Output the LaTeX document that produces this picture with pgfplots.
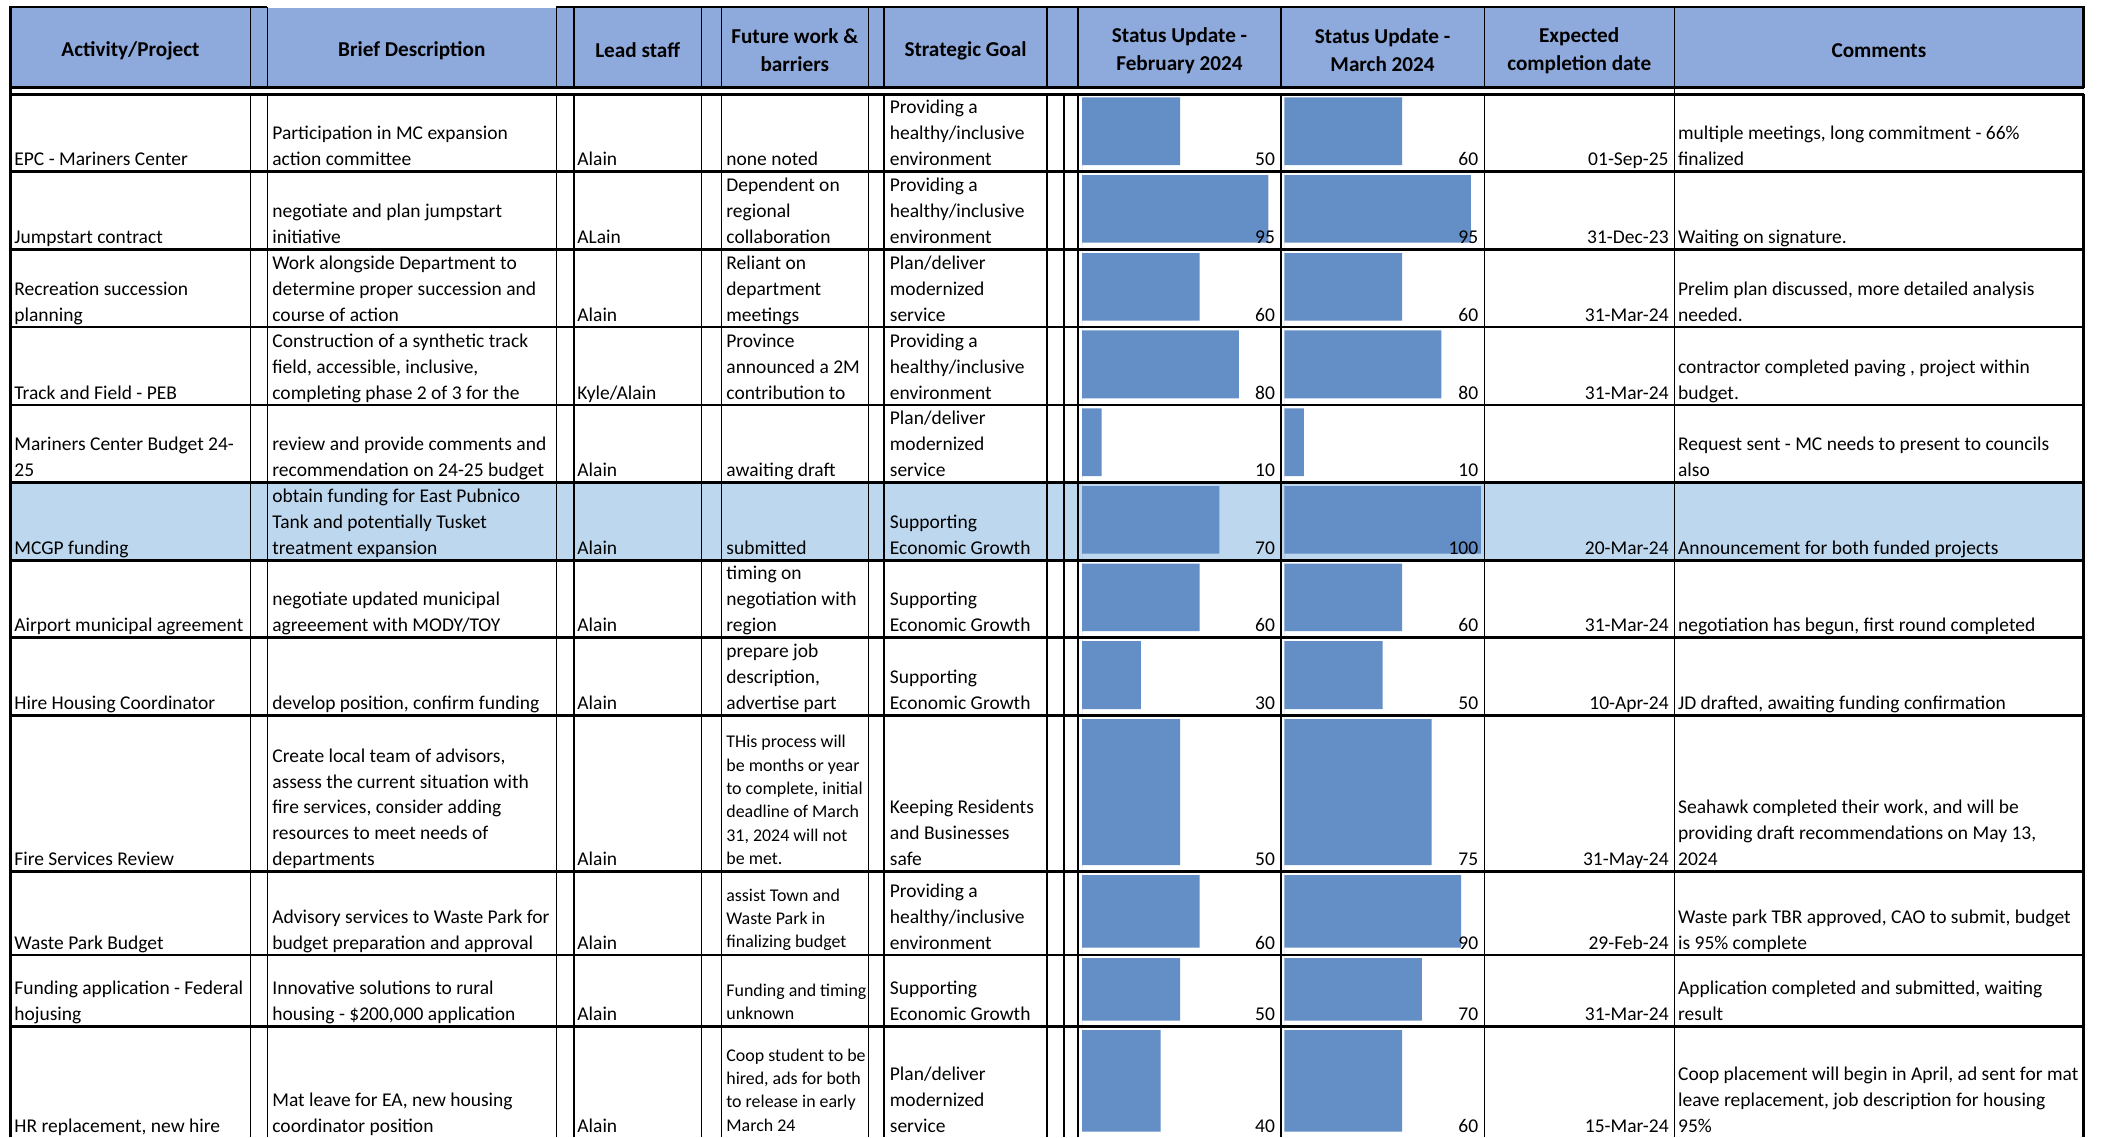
\documentclass[border=0pt]{standalone}
\usepackage{pgfplots}
\usepackage{pgfplotstable}
\pgfplotsset{compat=1.18}
\usepackage{fontspec}
\setmainfont{Carlito}
\definecolor{hdr}{HTML}{8EA9DB}
\definecolor{hil}{HTML}{BDD7EE}
\definecolor{barc}{HTML}{638EC6}
\newcommand\nf{\fontsize{9.75pt}{12.95pt}\selectfont}
\newcommand\sfn{\fontsize{8.95pt}{11.65pt}\selectfont}
\newcommand\hf{\fontsize{10.6pt}{14pt}\selectfont\bfseries}
\newcommand\XL[3]{\node[anchor=south west,inner sep=0pt,align=left,font=\nf,yshift=-1.1pt] at (axis cs:#1,#2) {#3\strut};}
\newcommand\XS[3]{\node[anchor=south west,inner sep=0pt,align=left,font=\sfn,yshift=0pt] at (axis cs:#1,#2) {#3\strut};}
\newcommand\XR[3]{\node[anchor=south east,inner sep=0pt,font=\nf,yshift=-1.1pt] at (axis cs:#1,#2) {#3\strut};}
\newcommand\XH[3]{\node[align=center,inner sep=0pt,font=\hf] at (axis cs:#1,#2) {#3};}
% bar tables: y = interval start (pixel row position), v = value (0 = gap between rows)
\pgfplotstableread{
y v
97.3 50
165 0
175 95
242.7 0
253 60
320.7 0
330.3 80
398.3 0
408.3 10
476 0
486 70
553.7 0
563.6 60
631 0
641 30
709 0
719 50
865 0
875 60
947.7 0
958 50
1020.7 0
1030 40
1131.7 0
}\feb
\pgfplotstableread{
y v
97.3 60
165 0
175 95
242.7 0
253 60
320.7 0
330.3 80
398.3 0
408.3 10
476 0
486 100
553.7 0
563.6 60
631 0
641 50
709 0
719 75
865 0
875 90
947.7 0
958 70
1020.7 0
1030 60
1131.7 0
}\mar
\begin{document}
\begin{tikzpicture}
\pgfplotsset{base/.style={width=1053.5pt,height=568.5pt,scale only axis,hide axis,ymin=0,ymax=1137,y dir=reverse,at={(0,0)},anchor=south west}}
\begin{axis}[base,xmin=0,xmax=2107]
\fill[hdr] (axis cs:10.5,7) rectangle (axis cs:267.3,87.7);
\fill[hdr] (axis cs:267.3,8.3) rectangle (axis cs:556.3,87.7);
\fill[hdr] (axis cs:556.3,7) rectangle (axis cs:2083.6,87.7);
\fill[hil] (axis cs:10.5,482.7) rectangle (axis cs:2083.6,560.3);
\end{axis}
\begin{axis}[base,xmin=-551.48,xmax=522.43]
\addplot[xbar interval, fill=barc, draw=none] table[x=v,y=y]{\feb};
\end{axis}
\begin{axis}[base,xmin=-653.54,xmax=418.73]
\addplot[xbar interval, fill=barc, draw=none] table[x=v,y=y]{\mar};
\end{axis}
\begin{axis}[base,xmin=0,xmax=2107]
\pgfplotsinvokeforeach{87.7,94.3,171.7,249.7,327,405,482.7,560.3,637.7,715.7,871.7,955,1026.7}{\draw[line width=1.3pt] (axis cs:10.5,#1) -- (axis cs:2083.6,#1);}
\draw[line width=1.3pt] (axis cs:10.5,7)--(axis cs:267.3,7);
\draw[line width=1.3pt] (axis cs:556.3,7)--(axis cs:2083.6,7);
\pgfplotsinvokeforeach{250.4,267.3,556.3,573.8,701.5,721.2,868.5,883.9,1047,1078,1281,1484.3,1674.2}{\draw[line width=0.7pt] (axis cs:#1,7) -- (axis cs:#1,87.7);}
\pgfplotsinvokeforeach{250.4,267.3,556.3,573.8,701.5,721.2,868.5,883.9,1047,1064,1078,1281,1484.3,1674.2}{\draw[line width=0.7pt] (axis cs:#1,94.3) -- (axis cs:#1,1137);}
\draw[line width=0.7pt] (axis cs:1674.2,87.7)--(axis cs:1674.2,94.3);
\draw[line width=1.4pt] (axis cs:10.5,6.4) -- (axis cs:10.5,1137);
\draw[line width=1.4pt] (axis cs:2083.6,6.4) -- (axis cs:2083.6,87.7);
\draw[line width=1.4pt] (axis cs:2083.6,94.3) -- (axis cs:2083.6,1137);
% header
\XH{130.5}{50.5}{Activity/Project}
\XH{411.8}{50.5}{Brief Description}
\XH{637.6}{50.5}{Lead staff}
\XH{794.8}{50.5}{Future work \&\\barriers}
\XH{965.5}{50.5}{Strategic Goal}
\XH{1179.5}{50.5}{Status Update -\\February 2024}
\XH{1382.6}{50.5}{Status Update -\\March 2024}
\XH{1579.2}{50.5}{Expected\\completion date}
\XH{1878.9}{50.5}{Comments}
% row 1
\XL{14}{171.7}{EPC - Mariners Center}
\XL{272}{171.7}{Participation in MC expansion\\action committee}
\XL{577}{171.7}{Alain}
\XL{726}{171.7}{none noted}
\XL{889.5}{171.7}{Providing a\\healthy/inclusive\\environment}
\XR{1275.3}{171.7}{50}
\XR{1478.6}{171.7}{60}
\XR{1669}{171.7}{01-Sep-25}
\XL{1677.7}{171.7}{multiple meetings, long commitment - 66\%\\finalized}
% row 2
\XL{14}{249.7}{Jumpstart contract}
\XL{272}{249.7}{negotiate and plan jumpstart\\initiative}
\XL{577}{249.7}{ALain}
\XL{726}{249.7}{Dependent on\\regional\\collaboration}
\XL{889.5}{249.7}{Providing a\\healthy/inclusive\\environment}
\XR{1275.3}{249.7}{95}
\XR{1478.6}{249.7}{95}
\XR{1669}{249.7}{31-Dec-23}
\XL{1677.7}{249.7}{Waiting on signature.}
% row 3
\XL{14}{327}{Recreation succession\\planning}
\XL{272}{327}{Work alongside Department to\\determine proper succession and\\course of action}
\XL{577}{327}{Alain}
\XL{726}{327}{Reliant on\\department\\meetings}
\XL{889.5}{327}{Plan/deliver\\modernized\\service}
\XR{1275.3}{327}{60}
\XR{1478.6}{327}{60}
\XR{1669}{327}{31-Mar-24}
\XL{1677.7}{327}{Prelim plan discussed, more detailed analysis\\needed.}
% row 4
\XL{14}{405}{Track and Field - PEB}
\XL{272}{405}{Construction of a synthetic track\\field, accessible, inclusive,\\completing phase 2 of 3 for the}
\XL{577}{405}{Kyle/Alain}
\XL{726}{405}{Province\\announced a 2M\\contribution to}
\XL{889.5}{405}{Providing a\\healthy/inclusive\\environment}
\XR{1275.3}{405}{80}
\XR{1478.6}{405}{80}
\XR{1669}{405}{31-Mar-24}
\XL{1677.7}{405}{contractor completed paving , project within\\budget.}
% row 5
\XL{14}{482.7}{Mariners Center Budget 24-\\25}
\XL{272}{482.7}{review and provide comments and\\recommendation on 24-25 budget}
\XL{577}{482.7}{Alain}
\XL{726}{482.7}{awaiting draft}
\XL{889.5}{482.7}{Plan/deliver\\modernized\\service}
\XR{1275.3}{482.7}{10}
\XR{1478.6}{482.7}{10}
\XL{1677.7}{482.7}{Request sent - MC needs to present to councils\\also}
% row 6
\XL{14}{560.3}{MCGP funding}
\XL{272}{560.3}{obtain funding for East Pubnico\\Tank and potentially Tusket\\treatment expansion}
\XL{577}{560.3}{Alain}
\XL{726}{560.3}{submitted}
\XL{889.5}{560.3}{Supporting\\Economic Growth}
\XR{1275.3}{560.3}{70}
\XR{1478.6}{560.3}{100}
\XR{1669}{560.3}{20-Mar-24}
\XL{1677.7}{560.3}{Announcement for both funded projects}
% row 7
\XL{14}{637.7}{Airport municipal agreement}
\XL{272}{637.7}{negotiate updated municipal\\agreeement with MODY/TOY}
\XL{577}{637.7}{Alain}
\XL{726}{637.7}{timing on\\negotiation with\\region}
\XL{889.5}{637.7}{Supporting\\Economic Growth}
\XR{1275.3}{637.7}{60}
\XR{1478.6}{637.7}{60}
\XR{1669}{637.7}{31-Mar-24}
\XL{1677.7}{637.7}{negotiation has begun, first round completed}
% row 8
\XL{14}{715.7}{Hire Housing Coordinator}
\XL{272}{715.7}{develop position, confirm funding}
\XL{577}{715.7}{Alain}
\XL{726}{715.7}{prepare job\\description,\\advertise part}
\XL{889.5}{715.7}{Supporting\\Economic Growth}
\XR{1275.3}{715.7}{30}
\XR{1478.6}{715.7}{50}
\XR{1669}{715.7}{10-Apr-24}
\XL{1677.7}{715.7}{JD drafted, awaiting funding confirmation}
% row 9
\XL{14}{871.7}{Fire Services Review}
\XL{272}{871.7}{Create local team of advisors,\\assess the current situation with\\fire services, consider adding\\resources to meet needs of\\departments}
\XL{577}{871.7}{Alain}
\XS{726}{871.7}{THis process will\\be months or year\\to complete, initial\\deadline of March\\31, 2024 will not\\be met.}
\XL{889.5}{871.7}{Keeping Residents\\and Businesses\\safe}
\XR{1275.3}{871.7}{50}
\XR{1478.6}{871.7}{75}
\XR{1669}{871.7}{31-May-24}
\XL{1677.7}{871.7}{Seahawk completed their work, and will be\\providing draft recommendations on May 13,\\2024}
% row 10
\XL{14}{955}{Waste Park Budget}
\XL{272}{955}{Advisory services to Waste Park for\\budget preparation and approval}
\XL{577}{955}{Alain}
\XS{726}{955}{assist Town and\\Waste Park in\\finalizing budget}
\XL{889.5}{955}{Providing a\\healthy/inclusive\\environment}
\XR{1275.3}{955}{60}
\XR{1478.6}{955}{90}
\XR{1669}{955}{29-Feb-24}
\XL{1677.7}{955}{Waste park TBR approved, CAO to submit, budget\\is 95\% complete}
% row 11
\XL{14}{1026.7}{Funding application - Federal\\hojusing}
\XL{272}{1026.7}{Innovative solutions to rural\\housing - \$200,000 application}
\XL{577}{1026.7}{Alain}
\XS{726}{1026.7}{Funding and timing\\unknown}
\XL{889.5}{1026.7}{Supporting\\Economic Growth}
\XR{1275.3}{1026.7}{50}
\XR{1478.6}{1026.7}{70}
\XR{1669}{1026.7}{31-Mar-24}
\XL{1677.7}{1026.7}{Application completed and submitted, waiting\\result}
% row 12
\XL{14}{1138.4}{HR replacement, new hire}
\XL{272}{1138.4}{Mat leave for EA, new housing\\coordinator position}
\XL{577}{1138.4}{Alain}
\XS{726}{1138.4}{Coop student to be\\hired, ads for both\\to release in early\\March 24}
\XL{889.5}{1138.4}{Plan/deliver\\modernized\\service}
\XR{1275.3}{1138.4}{40}
\XR{1478.6}{1138.4}{60}
\XR{1669}{1138.4}{15-Mar-24}
\XL{1677.7}{1138.4}{Coop placement will begin in April, ad sent for mat\\leave replacement, job description for housing\\95\%}
\coordinate (SW) at (axis cs:0,1137);
\coordinate (NE) at (axis cs:2107,0);
\end{axis}
\pgfresetboundingbox
\useasboundingbox (SW) rectangle (NE);
\end{tikzpicture}
\end{document}
